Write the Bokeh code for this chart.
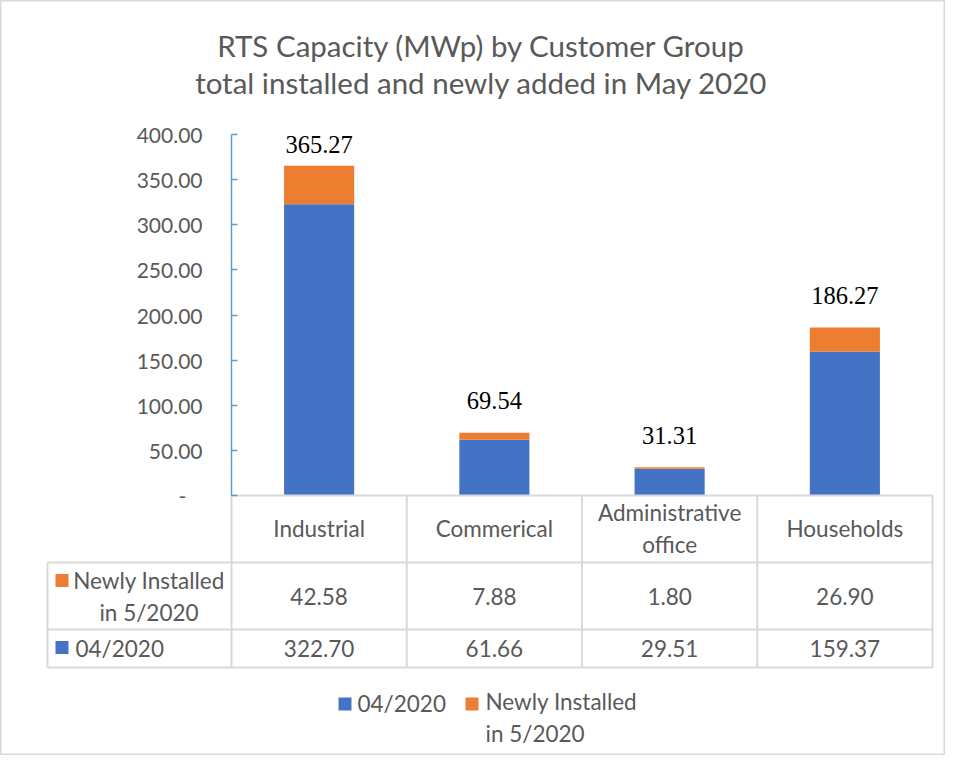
from bokeh.plotting import figure
from bokeh.models import Range1d, LinearAxis, FixedTicker, NumeralTickFormatter, ColumnDataSource
from bokeh.core.properties import value
from bokeh.embed import file_html
from bokeh.resources import INLINE

# ---------------- data ----------------
categories = ["Industrial", "Commerical", "Administrative\noffice", "Households"]
april_2020 = [322.70, 61.66, 29.51, 159.37]
new_may_2020 = [42.58, 7.88, 1.80, 26.90]
total_may_2020 = [365.27, 69.54, 31.31, 186.27]
series_names = ["04/2020", "Newly Installed\nin 5/2020"]
y_ticks = [0, 50, 100, 150, 200, 250, 300, 350, 400]
title_lines = ["RTS Capacity (MWp) by Customer Group",
               "total installed and newly added in May 2020"]

# ---------------- layout (figure pixels) ----------------
W, H = 945, 755
PX_PER_CAT = 175.25
PX_PER_UNIT = 0.9025
AXIS_X = 231
BASE_Y = 495
Y_MAX = 400

BLUE = "#4472C4"
ORANGE = "#ED7D31"
GREY_TXT = "#595959"
GRID = "#D9D9D9"
SANS = "Lato"
SERIF = "Liberation Serif"
FS = "22.5px"
LH = 1.2


def dx(px):
    return (px - AXIS_X) / PX_PER_CAT


def dy(py):
    return (BASE_Y - py) / PX_PER_UNIT


p = figure(width=W, height=H,
           x_range=Range1d(dx(0), dx(W)), y_range=Range1d(dy(H), dy(0)),
           output_backend="svg", toolbar_location=None,
           x_axis_type=None, y_axis_type=None, min_border=0)
p.min_border_left = p.min_border_right = p.min_border_top = p.min_border_bottom = 0
p.outline_line_color = GRID
p.outline_line_width = 2
p.background_fill_color = "white"
p.border_fill_color = "white"

n = len(categories)
xs = [i + 0.5 for i in range(n)]

# label position (centre): above bar, but kept inside plot area
lab_gap = 32 / PX_PER_UNIT
lab_top = 9.5 / PX_PER_UNIT
label_y = [min(t + lab_gap, Y_MAX - lab_top) for t in total_may_2020]

src = ColumnDataSource(dict(
    x=xs, april=april_2020, total=total_may_2020,
    total_txt=["{:.2f}".format(t) for t in total_may_2020], label_y=label_y,
))

# ---------------- title ----------------
p.text(x=[dx(481), dx(481)], y=[dy(45), dy(82)], text=title_lines,
       text_align="center", text_baseline="middle",
       text_font=value(SANS), text_font_size="29.5px", text_color=GREY_TXT)

# ---------------- bars ----------------
p.vbar(x="x", width=0.4, bottom=0, top="april", source=src,
       fill_color=BLUE, line_color=None)
p.vbar(x="x", width=0.4, bottom="april", top="total", source=src,
       fill_color=ORANGE, line_color=None)

p.text(x="x", y="label_y", text="total_txt", source=src,
       text_align="center", text_baseline="middle",
       text_font=value(SERIF), text_font_size="24.5px", text_color="#000000")

# ---------------- y axis ----------------
yaxis = LinearAxis(fixed_location=0, bounds=(0, Y_MAX),
                   ticker=FixedTicker(ticks=y_ticks),
                   formatter=NumeralTickFormatter(format="0.00"))
yaxis.major_label_overrides = {0: "-\u00a0\u00a0\u00a0"}
yaxis.axis_line_color = "#5B9BD5"
yaxis.axis_line_width = 1.5
yaxis.major_tick_line_color = "#5B9BD5"
yaxis.major_tick_line_width = 1.5
yaxis.major_tick_in = 6
yaxis.major_tick_out = 0
yaxis.minor_tick_line_color = None
yaxis.major_label_standoff = 29
yaxis.major_label_text_font = SANS
yaxis.major_label_text_font_size = "21px"
yaxis.major_label_text_color = GREY_TXT
p.add_layout(yaxis, "left")

# ---------------- data table ----------------
ROW_EDGES = [0, 67, 134, 172]       # pixel offsets below the base line
ROW_CENTERS = [33, 101, 153]
TABLE_LEFT = 47

h_x0, h_x1, h_y = [], [], []
for k, off in enumerate(ROW_EDGES):
    h_x0.append(0 if k == 0 else dx(TABLE_LEFT))
    h_x1.append(n)
    h_y.append(-off / PX_PER_UNIT)
p.segment(x0=h_x0, y0=h_y, x1=h_x1, y1=h_y, line_color=GRID, line_width=2)

v_x = [float(i) for i in range(n + 1)] + [dx(TABLE_LEFT)]
v_y0 = [0.0] * (n + 1) + [-ROW_EDGES[1] / PX_PER_UNIT]
v_y1 = [-ROW_EDGES[-1] / PX_PER_UNIT] * (n + 2)
p.segment(x0=v_x, y0=v_y0, x1=v_x, y1=v_y1, line_color=GRID, line_width=2)

src_tab = ColumnDataSource(dict(
    x=xs, cat=categories,
    new_txt=["{:.2f}".format(v) for v in new_may_2020],
    april_txt=["{:.2f}".format(v) for v in april_2020],
    y_head=[-ROW_CENTERS[0] / PX_PER_UNIT] * n,
    y_new=[-ROW_CENTERS[1] / PX_PER_UNIT] * n,
    y_apr=[-ROW_CENTERS[2] / PX_PER_UNIT] * n,
))
common = dict(text_align="center", text_baseline="middle", text_font=value(SANS),
              text_font_size=FS, text_color=GREY_TXT, source=src_tab)
p.text(x="x", y="y_head", text="cat", text_line_height=LH, **common)
p.text(x="x", y="y_new", text="new_txt", **common)
p.text(x="x", y="y_apr", text="april_txt", **common)

# row headers with swatches
sw = dict(width=13, height=13, width_units="screen", height_units="screen", line_color=None)
p.rect(x=[dx(61.5)], y=[dy(580)], fill_color=ORANGE, **sw)
p.rect(x=[dx(61.5)], y=[dy(647)], fill_color=BLUE, **sw)
p.text(x=[dx(148.5)], y=[-ROW_CENTERS[1] / PX_PER_UNIT], text=[series_names[1]],
       text_align="center", text_baseline="middle", text_line_height=LH,
       text_font=value(SANS), text_font_size=FS, text_color=GREY_TXT)
p.text(x=[dx(75)], y=[-ROW_CENTERS[2] / PX_PER_UNIT], text=[series_names[0]],
       text_align="left", text_baseline="middle",
       text_font=value(SANS), text_font_size=FS, text_color=GREY_TXT)

# ---------------- bottom legend ----------------
p.rect(x=[dx(344.5)], y=[dy(703.5)], fill_color=BLUE, **sw)
p.rect(x=[dx(471.5)], y=[dy(703.5)], fill_color=ORANGE, **sw)
p.text(x=[dx(357)], y=[dy(703)], text=[series_names[0]],
       text_align="left", text_baseline="middle",
       text_font=value(SANS), text_font_size=FS, text_color=GREY_TXT)
p.text(x=[dx(485)], y=[dy(717)], text=[series_names[1]],
       text_align="left", text_baseline="middle", text_line_height=LH,
       text_font=value(SANS), text_font_size=FS, text_color=GREY_TXT)

open("out.html", "w").write(file_html(p, INLINE))
